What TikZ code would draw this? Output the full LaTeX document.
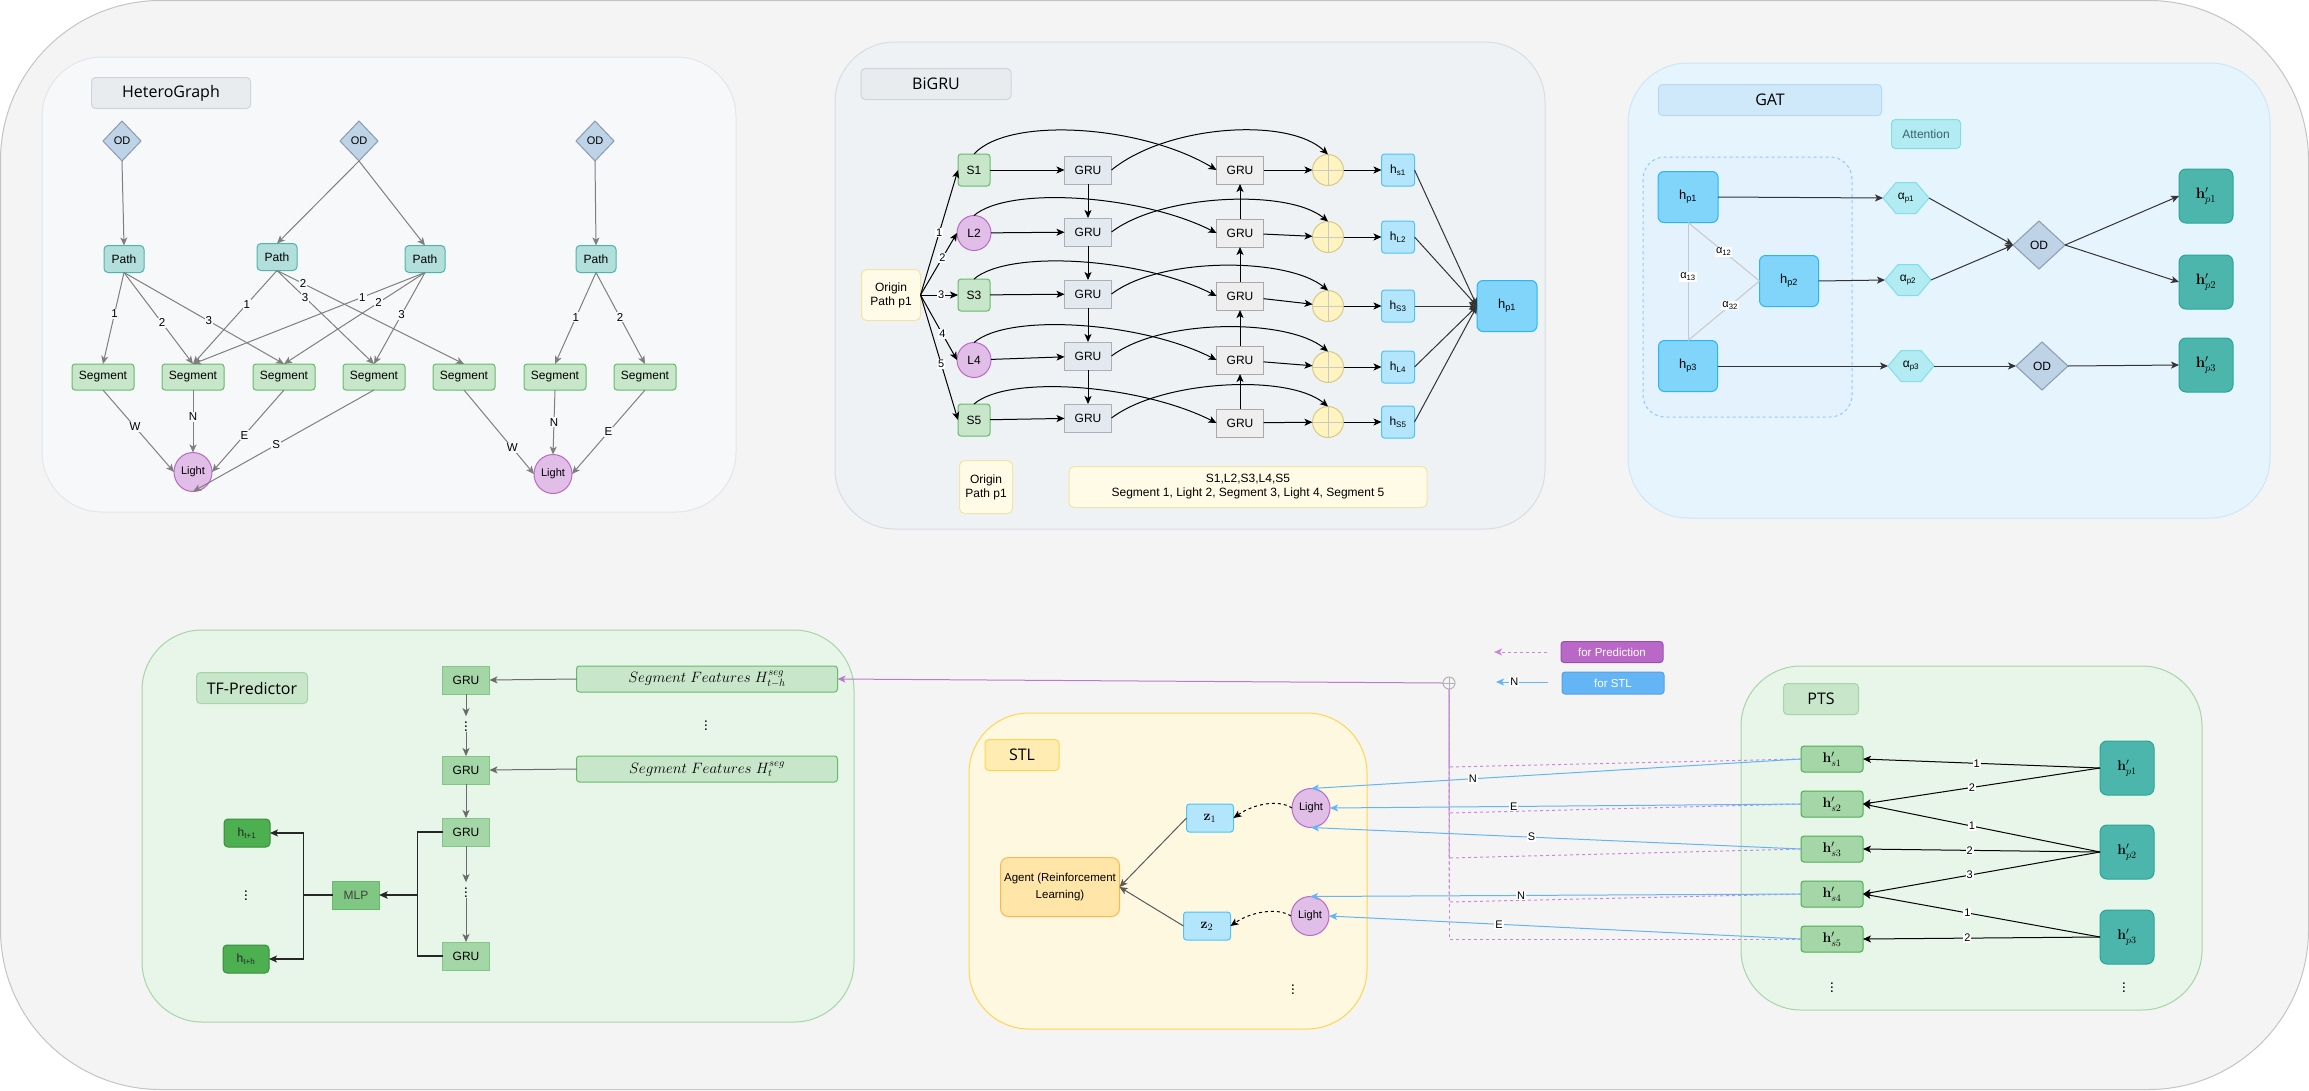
\documentclass[tikz,border=0pt]{standalone}
\usepackage{fix-cm}
\usepackage[no-math]{fontspec}
\setmainfont{Liberation Sans}
\newfontfamily\headfont{Open Sans}
\usetikzlibrary{shapes.geometric,shapes.symbols,arrows.meta}

\definecolor{outerbg}{HTML}{F4F4F4}
\definecolor{outerline}{HTML}{C4C4C4}
\definecolor{hgbg}{HTML}{F7F8FA}
\definecolor{hgline}{HTML}{E3E6EA}
\definecolor{ttlgray}{HTML}{E8ECEF}
\definecolor{ttlgrayl}{HTML}{CED4DA}
\definecolor{odfill}{HTML}{BFD3E6}
\definecolor{odline}{HTML}{8A9BB0}
\definecolor{pathfill}{HTML}{B2DFDB}
\definecolor{pathline}{HTML}{4DB6AC}
\definecolor{segfill}{HTML}{C8E6C9}
\definecolor{segline}{HTML}{66BB6A}
\definecolor{lightfill}{HTML}{E1BEE7}
\definecolor{lightline}{HTML}{BA68C8}
\definecolor{hgarrow}{HTML}{7F7F7F}
\definecolor{bgbg}{HTML}{EEF2F5}
\definecolor{bgline}{HTML}{D8DDE3}
\definecolor{yfill}{HTML}{FFFBE6}
\definecolor{yline}{HTML}{F2E4A6}
\definecolor{gruafill}{HTML}{E3E9EF}
\definecolor{grualine}{HTML}{A9B0B8}
\definecolor{grubfill}{HTML}{EEEEEE}
\definecolor{grubline}{HTML}{A8A8A8}
\definecolor{plusfill}{HTML}{FFF4BF}
\definecolor{plusline}{HTML}{D7C98A}
\definecolor{hfill}{HTML}{B3E5FC}
\definecolor{hline}{HTML}{4FC3F7}
\definecolor{hpfill}{HTML}{81D4FA}
\definecolor{hpline}{HTML}{29B6F6}
\definecolor{gatbg}{HTML}{E6F4FD}
\definecolor{gatline}{HTML}{CDE6F8}
\definecolor{gatttl}{HTML}{CFE8FA}
\definecolor{gatttll}{HTML}{B3D9F5}
\definecolor{attfill}{HTML}{B2EBF2}
\definecolor{attline}{HTML}{80DEEA}
\definecolor{atttext}{HTML}{37626B}
\definecolor{grpline}{HTML}{90CAF9}
\definecolor{grpfill}{HTML}{E3F2FD}
\definecolor{tealfill}{HTML}{4DB6AC}
\definecolor{tealline}{HTML}{26A69A}
\definecolor{softgray}{HTML}{C8C8C8}
\definecolor{tfbg}{HTML}{E8F5E9}
\definecolor{tfline}{HTML}{A5D6A7}
\definecolor{grugfill}{HTML}{A5D6A7}
\definecolor{grugline}{HTML}{81C784}
\definecolor{mlpfill}{HTML}{81C784}
\definecolor{htfill}{HTML}{4CAF50}
\definecolor{htline}{HTML}{388E3C}
\definecolor{tfarrow}{HTML}{6B6B6B}
\definecolor{stlbg}{HTML}{FFF8E1}
\definecolor{stlline}{HTML}{FFD54F}
\definecolor{stlttl}{HTML}{FFECB3}
\definecolor{agfill}{HTML}{FFE6A8}
\definecolor{agline}{HTML}{FFB74D}
\definecolor{ptsbox}{HTML}{A5D6A7}
\definecolor{ptsboxl}{HTML}{4CAF50}
\definecolor{legp}{HTML}{BA68C8}
\definecolor{legpl}{HTML}{9C4FB2}
\definecolor{legb}{HTML}{64B5F6}
\definecolor{legbl}{HTML}{5A9FE0}
\definecolor{purpline}{HTML}{C077CF}
\definecolor{purpdash}{HTML}{CC88DD}
\definecolor{blueline}{HTML}{64B5F6}

\newcommand\fz[2]{\fontsize{#1}{#2}\selectfont}

\begin{document}
\begin{tikzpicture}[x=1pt,y=-1pt,
  every node/.style={inner sep=0pt, outer sep=0pt},
  >={Stealth[length=8pt,width=7pt,inset=2pt]},
  panel/.style={line width=1pt, rounded corners=60pt},
  ttl/.style={rectangle, rounded corners=4pt, line width=1pt, minimum width=#1,
    minimum height=31pt, font=\headfont\fz{16}{19}},
  bx/.style={rectangle, line width=1pt, align=center, font=\fz{12}{14}},
  odd/.style={diamond, draw=odline, fill=odfill, line width=1pt,
    minimum width=38pt, minimum height=40pt, font=\fz{11}{13}},
  pathb/.style={bx, rounded corners=4pt, fill=pathfill, draw=pathline,
    minimum width=40pt, minimum height=27pt},
  segb/.style={bx, rounded corners=3pt, fill=segfill, draw=segline,
    minimum width=62pt, minimum height=26pt},
  lgt/.style={ellipse, fill=lightfill, draw=lightline, line width=1pt,
    minimum width=38pt, minimum height=39pt, font=\fz{11}{13}},
  hge/.style={draw=hgarrow, line width=1pt, ->},
  hgl/.style={fill=hgbg, inner sep=1pt, font=\fz{11.5}{13}},
  ybox/.style={bx, rounded corners=5pt, fill=yfill, draw=yline},
  sbox/.style={bx, rounded corners=3pt, fill=segfill, draw=segline,
    minimum width=32pt, minimum height=32pt},
  lbox/.style={ellipse, fill=lightfill, draw=lightline, line width=1pt,
    minimum width=34pt, minimum height=35pt, font=\fz{12}{14}},
  grua/.style={fill=gruafill, draw=grualine, minimum width=47pt, minimum height=28pt},
  grub/.style={fill=grubfill, draw=grubline, minimum width=47pt, minimum height=28pt},
  plusc/.style={circle, fill=plusfill, draw=plusline, line width=1pt, minimum size=31pt,
    path picture={\draw[softgray, line width=1pt]
      (path picture bounding box.north) -- (path picture bounding box.south)
      (path picture bounding box.west) -- (path picture bounding box.east);}},
  hbx/.style={bx, rounded corners=3pt, fill=hfill, draw=hline,
    minimum width=33pt, minimum height=32pt},
  bk/.style={draw=black, line width=1pt, ->},
  nl/.style={fill=white, inner sep=1pt, font=\fz{11}{12}},
  hpb/.style={bx, rounded corners=6pt, fill=hpfill, draw=hpline,
    minimum width=60pt, minimum height=51pt, font=\fz{13}{15}},
  hexa/.style={signal, signal to=west and east, signal pointer angle=100,
    fill=attfill, draw=attline, line width=1pt, minimum width=46pt,
    minimum height=31pt, font=\fz{12}{14}},
  odg/.style={diamond, draw=odline, fill=odfill, line width=1pt,
    minimum width=52pt, minimum height=48pt, font=\fz{12}{14}},
  tealb/.style={bx, rounded corners=7pt, fill=tealfill, draw=tealline,
    minimum width=54pt, minimum height=54pt, font=\fz{15}{17}},
  dk/.style={draw=black!80, line width=1pt, ->},
  gl/.style={draw=softgray, line width=1pt},
  al/.style={fill=white, inner sep=1pt, font=\fz{11}{13}},
  grug/.style={bx, fill=grugfill, draw=grugline, minimum width=47pt, minimum height=28pt},
  sfb/.style={bx, rounded corners=3pt, fill=segfill, draw=segline,
    minimum width=261pt, minimum height=26pt, font=\fz{15}{18}},
  tfe/.style={draw=tfarrow, line width=1pt, ->},
  tfk/.style={draw=black!85, line width=1.2pt, ->},
  htb/.style={bx, rounded corners=4pt, fill=htfill, draw=htline,
    minimum width=46pt, minimum height=28pt, text=black!85},
  vd/.style={font=\fz{15}{17}},
  zb/.style={bx, rounded corners=3pt, fill=hfill, draw=hline,
    minimum width=47pt, minimum height=28pt, font=\fz{14}{16}},
  ag/.style={draw=black!65, line width=1pt, ->},
  hsb/.style={bx, rounded corners=3pt, fill=ptsbox, draw=ptsboxl,
    minimum width=62pt, minimum height=26pt, font=\fz{14}{16}},
  blu/.style={draw=blueline, line width=1pt, ->},
  pdash/.style={draw=purpdash, line width=1pt, dashed},
  wl/.style={fill=white, inner sep=1pt, font=\fz{11}{12}},
  legbox/.style={bx, rounded corners=3pt, text=white, font=\fz{11.5}{13},
    minimum width=102pt, minimum height=21pt}
]
\useasboundingbox (0,0) rectangle (2309,1090);

% ---------- outer frame ----------
\draw[fill=outerbg, draw=outerline, line width=1pt, rounded corners=160pt]
  (0.5,0.5) rectangle (2308.5,1089.5);

% ---------- panels ----------
\draw[panel, fill=hgbg, draw=hgline] (42,57) rectangle (736,512);
\draw[panel, fill=bgbg, draw=bgline] (835,42) rectangle (1545,529);
\draw[panel, fill=gatbg, draw=gatline] (1628,63) rectangle (2270,518);
\draw[panel, fill=tfbg, draw=tfline] (142,630) rectangle (854,1022);
\draw[panel, fill=stlbg, draw=stlline] (969,713) rectangle (1367,1029);
\draw[panel, fill=tfbg, draw=tfline] (1741,666) rectangle (2202,1010);

% ================= HeteroGraph =================
\node[ttl=159pt, fill=ttlgray, draw=ttlgrayl] (hgt) at (171,93) {HeteroGraph};
\node[odd] (od1) at (122,141) {OD};
\node[odd] (od2) at (359,141) {OD};
\node[odd] (od3) at (595,141) {OD};
\node[pathb] (pa1) at (124,259) {Path};
\node[pathb] (pa2) at (277,257) {Path};
\node[pathb] (pa3) at (425,259) {Path};
\node[pathb] (pa4) at (596,259) {Path};
\foreach \n/\x in {1/103,2/193,3/284,4/374,5/464,6/555,7/645}
  \node[segb] (sg\n) at (\x,377) {Segment};
\node[lgt] (lt1) at (193,472) {Light};
\node[lgt] (lt2) at (553,474) {Light};

\draw[hge] (od1.south) -- (pa1.north);
\draw[hge] (od2.south) -- (pa2.north);
\draw[hge] (od2.south) -- (pa3.north);
\draw[hge] (od3.south) -- (pa4.north);

\draw[hge] (pa1.south) -- (sg1.north) node[hgl,pos=.45]{1};
\draw[hge] (pa1.south) -- (sg2.north) node[hgl,pos=.55]{2};
\draw[hge] (pa1.south) -- (sg3.north) node[hgl,pos=.53]{3};
\draw[hge] (pa2.south) -- (sg2.north) node[hgl,pos=.36]{1};
\draw[hge] (pa2.south) -- (sg4.north) node[hgl,pos=.29]{3};
\draw[hge] (pa2.south) -- (sg5.north) node[hgl,pos=.14]{2};
\draw[hge] (pa3.south) -- (sg2.north) node[hgl,pos=.27]{1};
\draw[hge] (pa3.south) -- (sg3.north) node[hgl,pos=.33]{2};
\draw[hge] (pa3.south) -- (sg4.north) node[hgl,pos=.46]{3};
\draw[hge] (pa4.south) -- (sg6.north) node[hgl,pos=.49]{1};
\draw[hge] (pa4.south) -- (sg7.north) node[hgl,pos=.49]{2};

\draw[hge] (sg1.south) -- (lt1.west)  node[hgl,pos=.45]{W};
\draw[hge] (sg2.south) -- (lt1.north) node[hgl,pos=.43]{N};
\draw[hge] (sg3.south) -- (lt1.east)  node[hgl,pos=.55]{E};
\draw[hge] (sg4.south) -- (lt1.south) node[hgl,pos=.54]{S};
\draw[hge] (sg5.south) -- (lt2.west)  node[hgl,pos=.69]{W};
\draw[hge] (sg6.south) -- (lt2.north) node[hgl,pos=.5]{N};
\draw[hge] (sg7.south) -- (lt2.east)  node[hgl,pos=.5]{E};

% ================= BiGRU =================
\node[ttl=150pt, fill=ttlgray, draw=ttlgrayl] (bgt) at (936,84) {BiGRU};
\node[ybox, minimum width=59pt, minimum height=51pt] (org) at (891,295) {Origin\\Path p1};
\node[sbox] (in1) at (974,170) {S1};
\node[lbox] (in2) at (974,233) {L2};
\node[sbox] (in3) at (974,295) {S3};
\node[lbox] (in4) at (974,360) {L4};
\node[sbox] (in5) at (974,420) {S5};
\foreach \i/\y in {1/170,2/232,3/294,4/356,5/418}
  \node[bx, grua] (ga\i) at (1088,\y) {GRU};
\foreach \i/\y in {1/170,2/233,3/296,4/360,5/423}
  \node[bx, grub] (gb\i) at (1240,\y) {GRU};
\foreach \i/\y in {1/170,2/237,3/306,4/367,5/422}
  \node[plusc] (pl\i) at (1328,\y) {};
\node[hbx] (hh1) at (1398,170) {h\textsubscript{s1}};
\node[hbx] (hh2) at (1398,237) {h\textsubscript{L2}};
\node[hbx] (hh3) at (1398,306) {h\textsubscript{S3}};
\node[hbx] (hh4) at (1398,367) {h\textsubscript{L4}};
\node[hbx] (hh5) at (1398,422) {h\textsubscript{S5}};
\node[hpb] (bhp) at (1507,306) {h\textsubscript{p1}};

\node[ybox, minimum width=53pt, minimum height=53pt] (org2) at (986,487) {Origin\\Path p1};
\node[ybox, minimum width=358pt, minimum height=41pt] (bleg) at (1248,487)
  {S1,L2,S3,L4,S5\\Segment 1, Light 2, Segment 3, Light 4, Segment 5};

\draw[bk] (org.east) -- (in1.west) node[nl,pos=.5]{1};
\draw[bk] (org.east) -- (in2.west) node[nl,pos=.6]{2};
\draw[bk] (org.east) -- (in3.west) node[nl,pos=.55]{3};
\draw[bk] (org.east) -- (in4.west) node[nl,pos=.6]{4};
\draw[bk] (org.east) -- (in5.west) node[nl,pos=.55]{5};

\foreach \i in {1,...,5} {
  \draw[bk] (in\i) -- (ga\i);
  \draw[bk] (gb\i) -- (pl\i);
  \draw[bk] (pl\i) -- (hh\i);
  \draw[draw=black!80, line width=1pt, ->] (hh\i.east) -- (bhp.west);
}
\foreach \i/\j in {1/2,2/3,3/4,4/5} {
  \draw[bk] (ga\i) -- (ga\j);
  \draw[bk] (gb\j) -- (gb\i);
}
% skip connections from the inputs to the backward GRU
\draw[bk] (in1.north) .. controls +(35,-38) and +(-75,-45) .. (gb1.west);
\foreach \i in {2,...,5}
  \draw[bk] (in\i.north) .. controls +(35,-30) and +(-75,-38) .. (gb\i.west);
% forward GRU outputs to the sum nodes
\draw[bk] (ga1.east) .. controls +(55,-45) and +(-40,-38) .. (pl1.north);
\foreach \i in {2,...,5}
  \draw[bk] (ga\i.east) .. controls +(50,-38) and +(-40,-33) .. (pl\i.north);

% ================= GAT =================
\node[ttl=223pt, fill=gatttl, draw=gatttll] (gatt) at (1770,100) {GAT};
\node[bx, rounded corners=4pt, fill=attfill, draw=attline, text=atttext,
  minimum width=69pt, minimum height=29pt] (att) at (1926,134) {Attention};
\draw[dashed, draw=grpline, fill=grpfill, line width=1pt, rounded corners=22pt]
  (1643,157) rectangle (1852,417);
\node[hpb, minimum width=60pt] (gh1) at (1688,197) {h\textsubscript{p1}};
\node[hpb, minimum width=59pt] (gh2) at (1789,281) {h\textsubscript{p2}};
\node[hpb, minimum width=59pt] (gh3) at (1688,366) {h\textsubscript{p3}};
\node[hexa] (gal1) at (1906,198) {α\textsubscript{p1}};
\node[hexa] (gal2) at (1908,280) {α\textsubscript{p2}};
\node[hexa] (gal3) at (1911,366) {α\textsubscript{p3}};
\node[odg] (god1) at (2039,245) {OD};
\node[odg] (god2) at (2042,366) {OD};
\node[tealb] (gp1) at (2206,196) {$\mathbf{h}'_{p1}$};
\node[tealb] (gp2) at (2206,282) {$\mathbf{h}'_{p2}$};
\node[tealb] (gp3) at (2206,365) {$\mathbf{h}'_{p3}$};

\draw[gl] (gh1.south) -- (gh3.north) node[al,pos=.46]{α\textsubscript{13}};
\draw[gl] (gh1.south) -- (gh2.west) node[al,pos=.5]{α\textsubscript{12}};
\draw[gl] (gh3.north) -- (gh2.west) node[al,pos=.59]{α\textsubscript{32}};
\draw[dk] (gh1.east) -- (gal1.west);
\draw[dk] (gh2.east) -- (gal2.west);
\draw[dk] (gh3.east) -- (gal3.west);
\draw[dk] (gal1.east) -- (god1.west);
\draw[dk] (gal2.east) -- (god1.west);
\draw[dk] (gal3.east) -- (god2.west);
\draw[dk] (god1.east) -- (gp1.west);
\draw[dk] (god1.east) -- (gp2.west);
\draw[dk] (god2.east) -- (gp3.west);

% ================= TF-Predictor =================
\node[ttl=111pt, fill=segfill, draw=tfline] (tft) at (252,688) {TF-Predictor};
\node[grug] (tg1) at (466,680) {GRU};
\node[vd] (td1) at (466,724) {$\vdots$};
\node[grug] (tg2) at (466,770) {GRU};
\node[grug] (tg3) at (466,832) {GRU};
\node[vd] (td2) at (466,890) {$\vdots$};
\node[grug] (tg4) at (466,956) {GRU};
\node[sfb] (sf1) at (707,679) {$Segment\ Features\ H^{seg}_{t-h}$};
\node[vd] (td3) at (706,723) {$\vdots$};
\node[sfb] (sf2) at (707,769) {$Segment\ Features\ H^{seg}_{t}$};
\node[grug, fill=mlpfill, draw=segline, text=black!75] (mlp) at (356,895) {MLP};
\node[htb] (ht1) at (247,833) {h\textsubscript{t+1}};
\node[vd] (td4) at (246,893) {$\vdots$};
\node[htb] (hth) at (246,959) {h\textsubscript{t+h}};

\draw[tfe] (sf1.west) -- (tg1.east);
\draw[tfe] (sf2.west) -- (tg2.east);
\draw[tfe] (tg1.south) -- (td1.north);
\draw[tfe] (td1.south) -- (tg2.north);
\draw[tfe] (tg2.south) -- (tg3.north);
\draw[tfe] (tg3.south) -- (td2.north);
\draw[tfe] (td2.south) -- (tg4.north);
\draw[tfk] (tg3.west) -- ++(-25,0) |- (mlp.east);
\draw[tfk] (tg4.west) -- ++(-25,0) |- (mlp.east);
\draw[tfk] (mlp.west) -- ++(-29,0) |- (ht1.east);
\draw[tfk] (mlp.west) -- ++(-29,0) |- (hth.east);

% ================= STL =================
\node[ttl=74pt, fill=stlttl, draw=stlline] (stlt) at (1022,755) {STL};
\node[bx, rounded corners=8pt, fill=agfill, draw=agline, minimum width=119pt,
  minimum height=59pt, font=\fz{11.5}{17}] (agent) at (1060,887)
  {Agent (Reinforcement\\Learning)};
\node[zb] (z1) at (1210,818) {$\mathbf{z}_1$};
\node[zb] (z2) at (1207,926) {$\mathbf{z}_2$};
\node[lgt] (sl1) at (1311,808) {Light};
\node[lgt] (sl2) at (1310,916) {Light};
\node[vd] (td5) at (1293,987) {$\vdots$};

\draw[ag] (z1.west) -- (agent.east);
\draw[ag] (z2.west) -- (agent.east);
\draw[black, line width=1pt, dashed, ->] (sl1.west) .. controls +(-14,-9) and +(20,-14) .. (z1.east);
\draw[black, line width=1pt, dashed, ->] (sl2.west) .. controls +(-14,-9) and +(20,-14) .. (z2.east);

% ================= PTS =================
\node[ttl=75pt, fill=segfill, draw=tfline] (ptst) at (1821,699) {PTS};
\node[hsb] (hs1) at (1832,759) {$\mathbf{h}'_{s1}$};
\node[hsb] (hs2) at (1832,804) {$\mathbf{h}'_{s2}$};
\node[hsb] (hs3) at (1832,849) {$\mathbf{h}'_{s3}$};
\node[hsb] (hs4) at (1832,894) {$\mathbf{h}'_{s4}$};
\node[hsb] (hs5) at (1832,939) {$\mathbf{h}'_{s5}$};
\node[vd] (td6) at (1832,985) {$\vdots$};
\node[tealb, font=\fz{14}{16}] (hp1) at (2127,768) {$\mathbf{h}'_{p1}$};
\node[tealb, font=\fz{14}{16}] (hp2) at (2127,852) {$\mathbf{h}'_{p2}$};
\node[tealb, font=\fz{14}{16}] (hp3) at (2127,937) {$\mathbf{h}'_{p3}$};
\node[vd] (td7) at (2124,985) {$\vdots$};

\draw[bk] (hp1.west) -- (hs1.east) node[wl,pos=.52]{1};
\draw[bk] (hp1.west) -- (hs2.east) node[wl,pos=.54]{2};
\draw[bk] (hp2.west) -- (hs2.east) node[wl,pos=.54]{1};
\draw[bk] (hp2.west) -- (hs3.east) node[wl,pos=.55]{2};
\draw[bk] (hp2.west) -- (hs4.east) node[wl,pos=.55]{3};
\draw[bk] (hp3.west) -- (hs4.east) node[wl,pos=.56]{1};
\draw[bk] (hp3.west) -- (hs5.east) node[wl,pos=.56]{2};

% ================= legend and cross-module links =================
\node[legbox, fill=legp, draw=legpl] (lgp) at (1612,652) {for Prediction};
\node[legbox, fill=legb, draw=legbl, minimum height=22pt] (lgb) at (1613,683) {for STL};
\coordinate (lgps) at (1547,652);
\coordinate (lgpt) at (1494,652);
\coordinate (lgbs) at (1548,682);
\coordinate (lgbt) at (1496,682);
\draw[pdash, ->, draw=purpdash] (lgps) -- (lgpt);
\draw[blu] (lgbs) -- (lgbt) node[wl,pos=.65]{N};

\node[circle, draw=gray!60, fill=outerbg, line width=1pt, minimum size=12pt,
  path picture={\draw[gray!60, line width=1pt]
    (path picture bounding box.north) -- (path picture bounding box.south)
    (path picture bounding box.west) -- (path picture bounding box.east);}]
  (jn) at (1449,683) {};
\draw[draw=purpline, line width=1pt, ->] (jn.west) -- (sf1.east);
\draw[pdash] (hs1.west) -- (1449,767) -- (jn.south);
\draw[pdash] (hs2.west) -- (1449,813) -- (jn.south);
\draw[pdash] (hs3.west) -- (1449,858) -- (jn.south);
\draw[pdash] (hs4.west) -- (1449,902) -- (jn.south);
\draw[pdash] (hs5.west) -- (1449,939) -- (jn.south);

\draw[blu] (hs1.west) -- (sl1.north) node[wl,pos=.67]{N};
\draw[blu] (hs2.west) -- (sl1.east)  node[wl,pos=.61]{E};
\draw[blu] (hs3.west) -- (sl1.south) node[wl,pos=.55]{S};
\draw[blu] (hs4.west) -- (sl2.north) node[wl,pos=.57]{N};
\draw[blu] (hs5.west) -- (sl2.east)  node[wl,pos=.64]{E};

\end{tikzpicture}
\end{document}
